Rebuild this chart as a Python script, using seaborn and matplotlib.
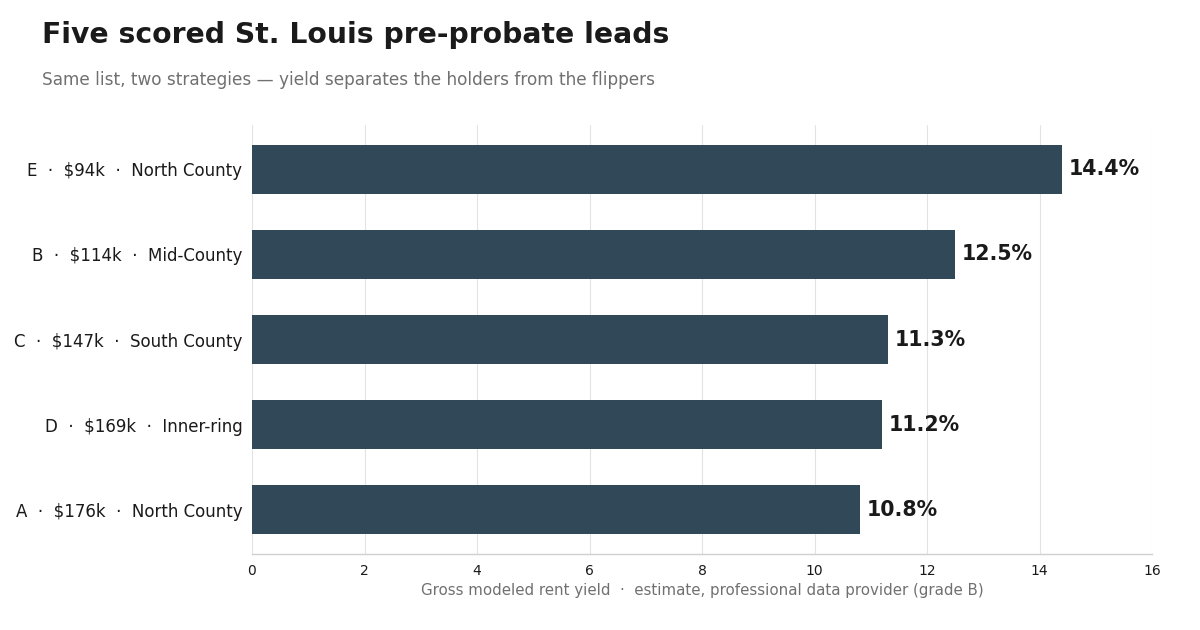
import pandas as pd
import matplotlib
matplotlib.use('Agg')
import matplotlib.pyplot as plt
import seaborn as sns

# ── Data ──────────────────────────────────────────────
leads = ['E', 'B', 'C', 'D', 'A']
prices = ['$94k', '$114k', '$147k', '$169k', '$176k']
areas = ['North County', 'Mid-County', 'South County', 'Inner-ring', 'North County']
yields = [14.4, 12.5, 11.3, 11.2, 10.8]

labels = [f'{l}  ·  {p}  ·  {a}' for l, p, a in zip(leads, prices, areas)]
df = pd.DataFrame({'label': labels, 'yield': yields})

# ── Settings ──────────────────────────────────────────
sns.set_theme(style='whitegrid')
plt.rcParams['font.family'] = ['DejaVu Sans']

fig = plt.figure(figsize=(12, 6.3), dpi=100)
ax = fig.add_axes([0.21, 0.1206, 0.75, 0.681])

sns.barplot(data=df, x='yield', y='label', color='#304857',
            width=0.57, saturation=1, linewidth=0, ax=ax)

for i, v in enumerate(yields):
    ax.text(v + 0.12, i, f'{v:.1f}%', va='center', ha='left',
            fontsize=14.8, fontweight='bold', color='#1a1a1a')

ax.set_xlim(0, 16)
ax.set_xticks(range(0, 17, 2))
ax.set_ylim(4.52, -0.52)
ax.grid(axis='x', color='#e3e3e3', linewidth=0.8)
ax.grid(axis='y', visible=False)
ax.set_facecolor('white')
for s in ['top', 'right', 'left']:
    ax.spines[s].set_visible(False)
ax.spines['bottom'].set_color('#d0d0d0')
ax.spines['bottom'].set_linewidth(1)

ax.tick_params(axis='y', labelsize=12, colors='#1a1a1a', length=0, pad=7)
ax.tick_params(axis='x', labelsize=10, colors='#1a1a1a', length=0, pad=7)
ax.set_ylabel('')
ax.set_xlabel('Gross modeled rent yield  ·  estimate, professional data provider (grade B)',
              fontsize=10.8, color='#707070', labelpad=4)

fig.text(0.035, 0.944, 'Five scored St. Louis pre-probate leads',
         fontsize=20.3, fontweight='bold', color='#1a1a1a', va='center')
fig.text(0.035, 0.873, 'Same list, two strategies — yield separates the holders from the flippers',
         fontsize=12.2, color='#707070', va='center')

plt.savefig('out.png', dpi=100, facecolor='white')
